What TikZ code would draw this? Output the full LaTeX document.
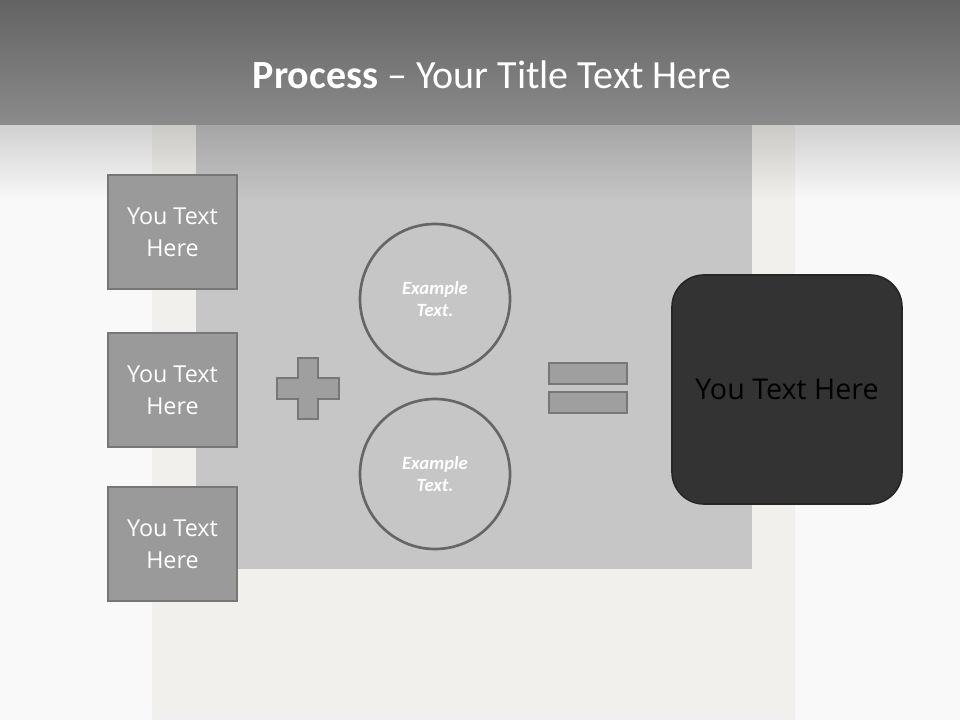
\documentclass[tikz,border=0pt]{standalone}
\usepackage{fontspec}
\setmainfont{Open Sans}
\newfontfamily\titlefont{Carlito}
\usepackage{xcolor}
\usepackage{tikz}
\usetikzlibrary{positioning, fadings}

\definecolor{bandtop}{HTML}{636363}
\definecolor{bandbot}{HTML}{8B8B8B}
\definecolor{slidebg}{HTML}{F9F9F9}
\definecolor{paper}{HTML}{F1F0EC}
\definecolor{photo}{HTML}{C6C6C6}
\definecolor{boxfill}{HTML}{9A9A9A}
\definecolor{boxline}{HTML}{777777}
\definecolor{circleline}{HTML}{666666}
\definecolor{darkbox}{HTML}{333333}

\begin{document}
\begin{tikzpicture}[x=0.75pt, y=-0.75pt,
        textbox/.style={rectangle, draw=boxline, line width=1.8pt, fill=boxfill, text=white, align=center, minimum width=96.75pt, minimum height=85.5pt, font=\fontsize{17.5}{24}\selectfont},
        bubble/.style={circle, draw=circleline, line width=2pt, fill=photo, text=white, align=center, minimum size=112.5pt, font=\titlefont\bfseries\itshape\fontsize{14}{17}\selectfont},
        eqbar/.style={rectangle, draw=boxline, line width=1.8pt, fill=boxfill!95!white, minimum width=58.5pt, minimum height=15.75pt},
        result/.style={rectangle, draw=black!85, line width=1.2pt, fill=darkbox, rounded corners=24pt, text=black, minimum width=172.5pt, minimum height=171.75pt, font=\fontsize{21.5}{24}\selectfont}
    ]
        \useasboundingbox (0,0) rectangle (960,720);

        % Slide and photo frame
        \fill[slidebg] (0,0) rectangle (960,720);
        \fill[black!6] (152,120) rectangle (795,720);
        \fill[paper] (155,120) rectangle (792,717);
        \fill[photo] (196,120) rectangle (752,569);
        \fill[black, opacity=0.16, path fading=south] (0,125) rectangle (960,200);
        \shade[top color=bandtop, bottom color=bandbot] (0,0) rectangle (960,125);

        % Title
        \node[text=white, font=\titlefont\fontsize{30}{36}\selectfont] (title) at (492,75) {\textbf{Process} – Your Title Text Here};

        % Inputs
        \node[textbox] (box1) at (172.5,232) {You Text\\Here};
        \node[textbox] (box2) at (172.5,390) {You Text\\Here};
        \node[textbox] (box3) at (172.5,544) {You Text\\Here};

        % Plus sign
        \draw[draw=boxline, line width=1.8pt, fill=boxfill!95!white]
            (298,358) -- (318,358) -- (318,378) -- (339,378) -- (339,399) -- (318,399)
            -- (318,419) -- (298,419) -- (298,399) -- (277,399) -- (277,378) -- (298,378) -- cycle;

        % Circles
        \node[bubble] (top) at (435,299) {Example\\Text.};
        \node[bubble] (bottom) at (435,474) {Example\\Text.};

        % Equals sign
        \node[eqbar] (eqtop) at (588,373.5) {};
        \node[eqbar] (eqbot) at (588,402.5) {};

        % Result
        \node[result] (res) at (787,389.5) {You Text Here};
    \end{tikzpicture}
\end{document}
